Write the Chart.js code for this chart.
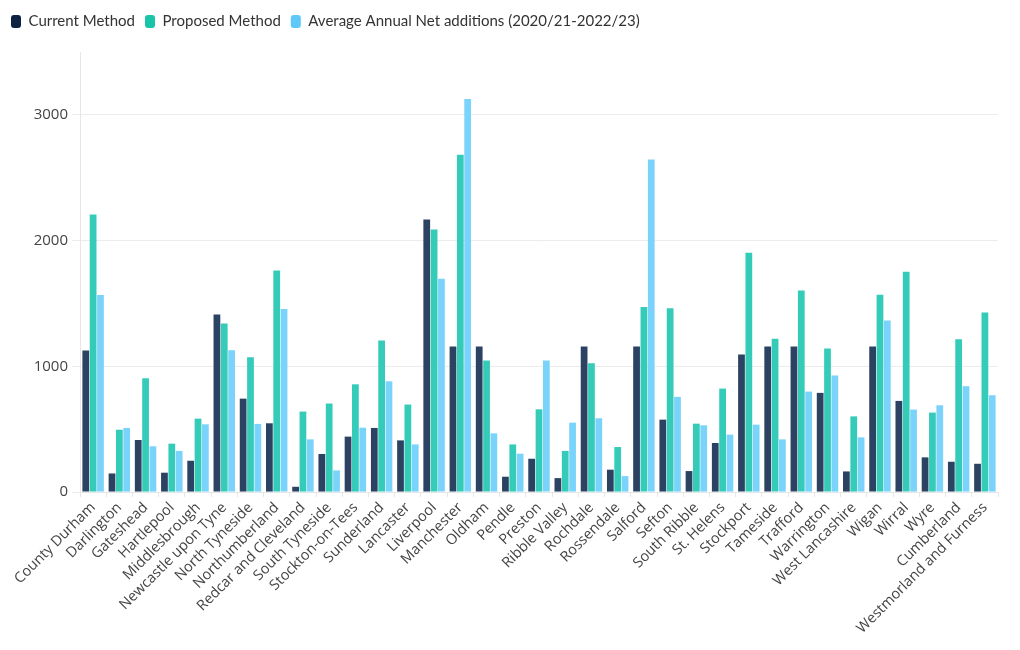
<!DOCTYPE html>
<html>
<head>
<meta charset="utf-8">
<title>Housing need by local authority</title>
<script src="https://cdn.jsdelivr.net/npm/chart.js@4.4.1/dist/chart.umd.min.js"></script>
<style>
  html, body { margin: 0; padding: 0; background: #fff; }
  #wrap { width: 1020px; height: 650px; position: relative; }
</style>
</head>
<body>
<div id="wrap"><canvas id="needChart"></canvas></div>
<script>
// local authorities, left to right
const AUTHORITIES = ['County Durham', 'Darlington', 'Gateshead', 'Hartlepool', 'Middlesbrough',
  'Newcastle upon Tyne', 'North Tyneside', 'Northumberland', 'Redcar and Cleveland', 'South Tyneside',
  'Stockton-on-Tees', 'Sunderland', 'Lancaster', 'Liverpool', 'Manchester', 'Oldham', 'Pendle',
  'Preston', 'Ribble Valley', 'Rochdale', 'Rossendale', 'Salford', 'Sefton', 'South Ribble',
  'St. Helens', 'Stockport', 'Tameside', 'Trafford', 'Warrington', 'West Lancashire', 'Wigan',
  'Wirral', 'Wyre', 'Cumberland', 'Westmorland and Furness'];

const currentMethod = [1126, 148, 414, 154, 249, 1413, 743, 547, 42, 303,
  441, 510, 411, 2167, 1158, 1158, 122, 265, 111, 1158, 178, 1158, 576, 167,
  390, 1094, 1158, 1158, 789, 164, 1158, 725, 276, 241, 225];

const proposedMethod = [2207, 496, 905, 385, 584, 1341, 1073, 1763, 640, 704,
  857, 1206, 696, 2088, 2682, 1046, 379, 658, 327, 1025, 358, 1471, 1461, 544,
  823, 1904, 1219, 1604, 1142, 602, 1569, 1753, 632, 1216, 1429];

const netAdditions = [1567, 510, 364, 327, 539, 1128, 542, 1455, 419, 172,
  512, 881, 379, 1697, 3126, 467, 305, 1046, 552, 587, 127, 2645, 757, 531,
  457, 536, 419, 799, 927, 435, 1365, 656, 690, 842, 770];

const Y_TICKS = [0, 1000, 2000, 3000];

const BAR_COLORS    = ['#2c4262', '#34ccb8', '#7ad3fa'];
const LEGEND_COLORS = ['#0d2143', '#19c4a8', '#5ec9f8'];

const xTickFont = { family: '"Open Sans", sans-serif', size: 14.5 };
const yTickFont = { family: '"Open Sans", sans-serif', size: 15 };

function makeSet(label, values, i) {
  return {
    label: label,
    data: values,
    backgroundColor: BAR_COLORS[i],
    borderWidth: 0,
    categoryPercentage: 0.84,
    barPercentage: 0.92
  };
}

// a bit more room under the legend
const legendGap = {
  id: 'legendGap',
  beforeInit(chart) {
    const origFit = chart.legend.fit;
    chart.legend.fit = function() {
      origFit.bind(chart.legend)();
      this.height += 13;
    };
  }
};

function buildChart() {
  const ctx = document.getElementById('needChart').getContext('2d');

  new Chart(ctx, {
    type: 'bar',
    data: {
      labels: AUTHORITIES,
      datasets: [
        makeSet('Current Method', currentMethod, 0),
        makeSet('Proposed Method', proposedMethod, 1),
        makeSet('Average Annual Net additions (2020/21-2022/23)', netAdditions, 2)
      ]
    },
    plugins: [legendGap],
    options: {
      responsive: true,
      maintainAspectRatio: false,
      animation: false,
      layout: { padding: { left: 1, right: 22, top: 4, bottom: 11 } },
      plugins: {
        legend: {
          position: 'top',
          align: 'start',
          labels: {
            color: '#333',
            font: { family: 'Lato, "Noto Sans", sans-serif', size: 15 },
            boxWidth: 10,
            boxHeight: 13,
            padding: 10,
            useBorderRadius: true,
            borderRadius: 3,
            generateLabels: function(chart) {
              // solid swatches in the darker legend tones
              return chart.data.datasets.map((ds, i) => ({
                text: ds.label,
                fillStyle: LEGEND_COLORS[i],
                strokeStyle: LEGEND_COLORS[i],
                lineWidth: 0,
                borderRadius: 3,
                hidden: !chart.isDatasetVisible(i),
                datasetIndex: i,
                fontColor: '#333'
              }));
            }
          }
        },
        tooltip: { enabled: false }
      },
      scales: {
        x: {
          grid: { drawOnChartArea: false, drawTicks: true, tickLength: 5, color: '#e6e6e6' },
          border: { color: '#e6e6e6' },
          ticks: {
            color: '#444',
            font: xTickFont,
            autoSkip: false,
            minRotation: 45,
            maxRotation: 45,
            padding: 2
          }
        },
        y: {
          min: 0,
          max: 3500,
          afterBuildTicks: axis => {
            axis.ticks = Y_TICKS.map(v => ({ value: v }));
          },
          afterFit: scale => { scale.width = 79; },
          grid: { color: '#ececec', tickLength: 8 },
          border: { color: '#e6e6e6' },
          ticks: {
            color: '#444',
            font: yTickFont,
            padding: 4,
            callback: v => String(v)
          }
        }
      }
    }
  });
}

// make sure the local fonts are resolved before drawing on the canvas
Promise.all([
  document.fonts.load('15px "Open Sans"'),
  document.fonts.load('15px Lato')
]).then(buildChart, buildChart);
</script>
</body>
</html>
